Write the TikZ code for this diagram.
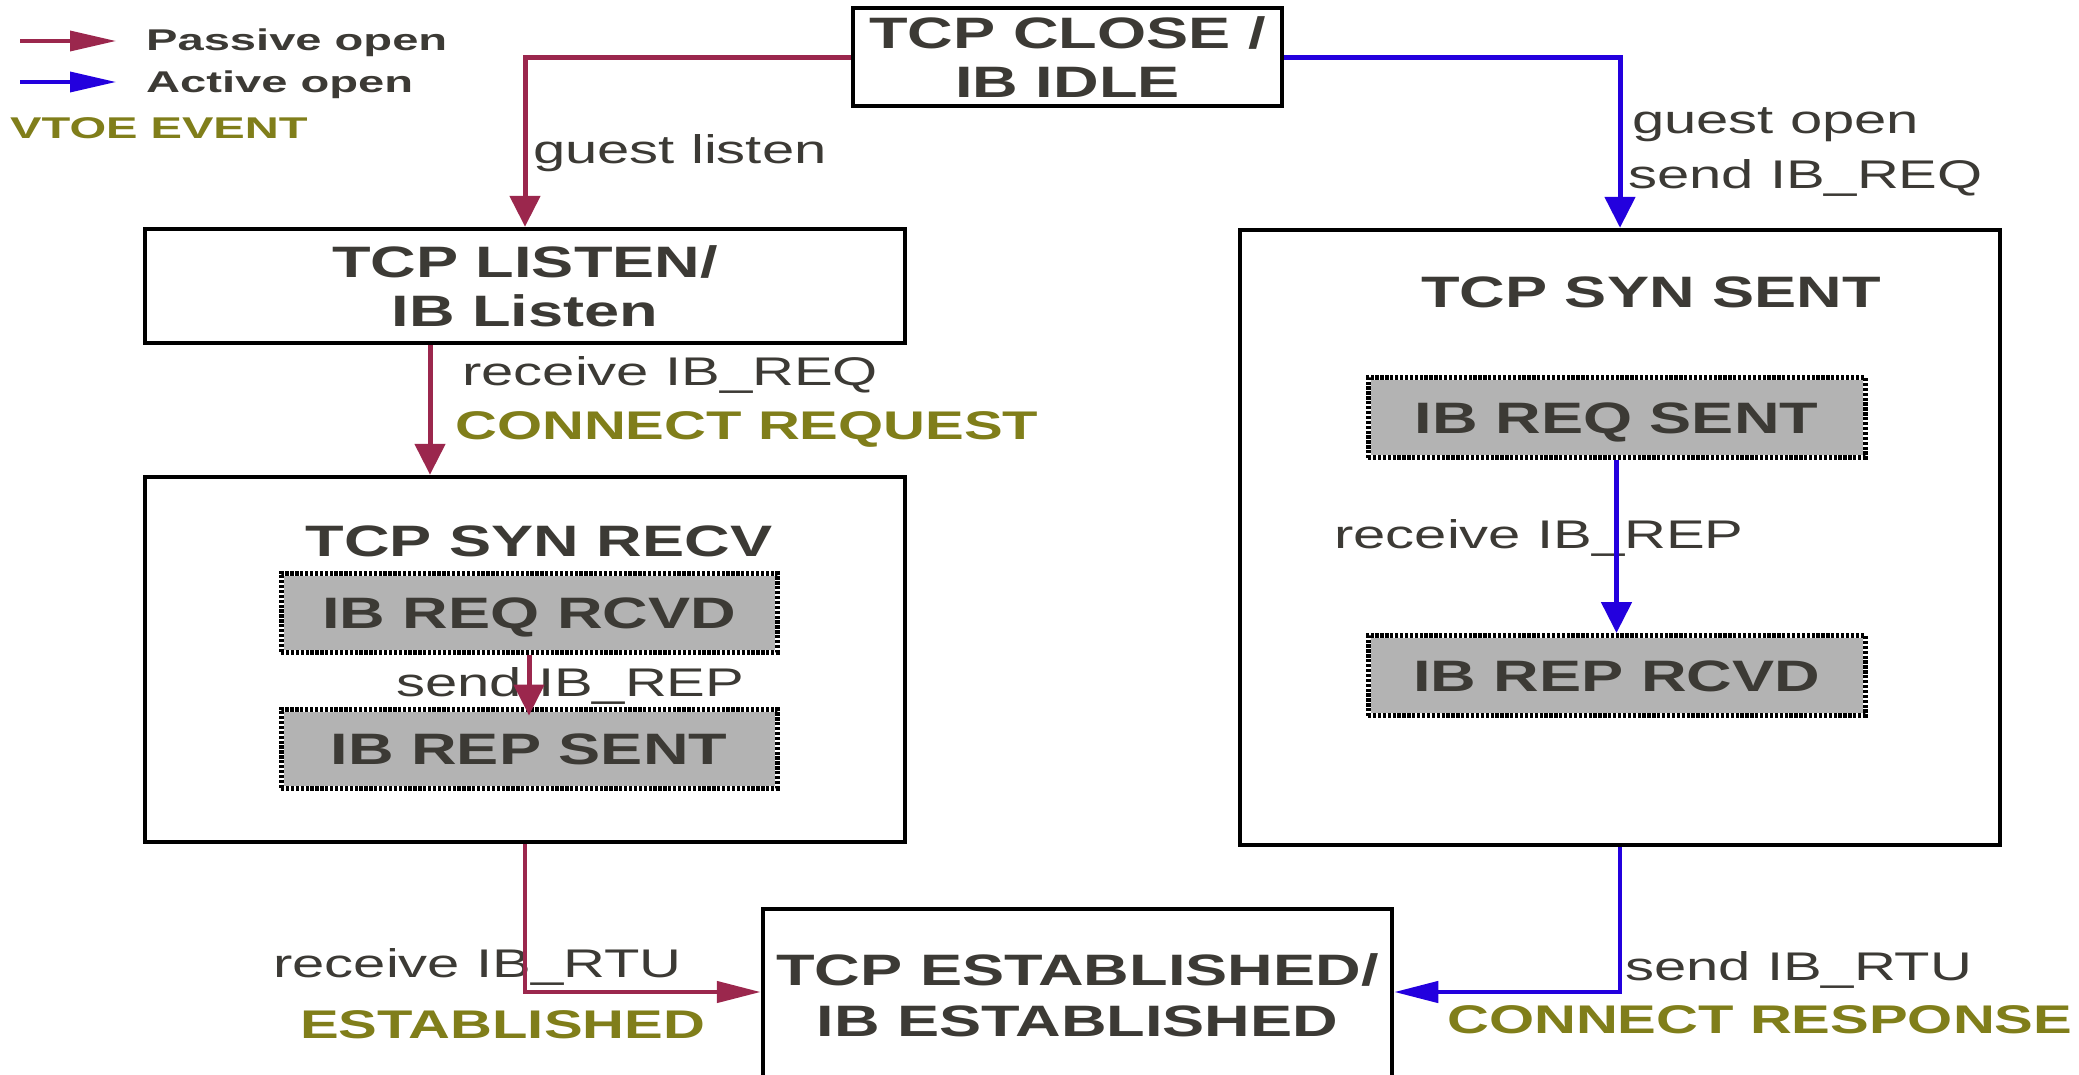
\documentclass[tikz,border=0pt]{standalone}
\usepackage{fontspec}
\setmainfont{Liberation Sans}
\newfontfamily\titleface{Liberation Sans}[FakeStretch=1.435]
\newfontfamily\labelface{Liberation Sans}[FakeStretch=1.45]
\newfontfamily\legendface{Liberation Sans}[FakeStretch=1.57]
\usetikzlibrary{arrows.meta}

\definecolor{ink}{RGB}{60,58,53}
\definecolor{eventolive}{RGB}{128,126,26}
\definecolor{passred}{RGB}{155,39,77}
\definecolor{actblue}{RGB}{35,0,222}
\definecolor{subgray}{RGB}{179,179,179}

\tikzset{
  x=1pt, y=-1pt,
  statebox/.style={draw=black, line width=4.5pt, fill=white, inner sep=0pt,
    text=ink, align=center,
    font=\titleface\bfseries\fontsize{44}{49}\selectfont},
  titletext/.style={anchor=base, inner sep=0pt, text=ink,
    font=\titleface\bfseries\fontsize{44}{49}\selectfont},
  substate/.style={fill=subgray, draw=white, line width=5pt, inner sep=0pt,
    text=ink, text height=31.5pt, text depth=0pt,
    font=\titleface\bfseries\fontsize{44}{49}\selectfont,
    postaction={draw=black, line width=5pt, dash pattern=on 3.3pt off 1.6pt}},
  evlabel/.style={anchor=base west, inner sep=0pt, text=ink,
    font=\labelface\fontsize{40}{46}\selectfont},
  vtoe/.style={anchor=base west, inner sep=0pt, text=eventolive,
    font=\labelface\bfseries\fontsize{40}{46}\selectfont},
  legendtext/.style={anchor=base west, inner sep=0pt, text=ink,
    font=\legendface\bfseries\fontsize{30}{36}\selectfont},
  passiveV/.style={draw=passred, line width=5pt, -{Triangle[length=31pt,width=30pt]}},
  passiveH/.style={draw=passred, line width=4.5pt, -{Triangle[length=44pt,width=21pt]}},
  activeV/.style={draw=actblue, line width=5pt, -{Triangle[length=31pt,width=30pt]}},
  activeH/.style={draw=actblue, line width=4.5pt, -{Triangle[length=44pt,width=21pt]}},
  legendarrow/.style={line width=3.5pt, -{Triangle[length=46pt,width=20pt]}},
}

\begin{document}
\begin{tikzpicture}
\useasboundingbox (0,0) rectangle (2079,1074);
\clip (0,0) rectangle (2079,1074);

% legend
\coordinate (lpa) at (20,41);
\coordinate (lpb) at (116,41);
\coordinate (laa) at (20,82);
\coordinate (lab) at (116,82);
\draw[legendarrow, draw=passred] (lpa) -- (lpb);
\draw[legendarrow, draw=actblue] (laa) -- (lab);
\node[legendtext] (lgpassive) at (146,50) {Passive open};
\node[legendtext] (lgactive) at (146,92) {Active open};
\node[legendtext, text=eventolive] (lgevent) at (10,138) {VTOE EVENT};

% states
\node[statebox, minimum width=429pt, minimum height=98pt] (close) at (1067.5,57)
  {TCP CLOSE /\\IB IDLE};
\node[statebox, minimum width=760pt, minimum height=114pt] (listen) at (525,286)
  {TCP LISTEN/\\IB Listen};
\node[statebox, minimum width=760pt, minimum height=365pt] (synrecv) at (525,659.5) {};
\node[statebox, minimum width=760pt, minimum height=615pt] (synsent) at (1620,537.5) {};
\node[statebox, minimum width=629pt, minimum height=172pt,
  font=\titleface\bfseries\fontsize{44}{51}\selectfont] (estab) at (1077.5,995)
  {TCP ESTABLISHED/\\IB ESTABLISHED};

% titles of the composite states
\node[titletext] (recvtitle) at (539,556) {TCP SYN RECV};
\node[titletext] (senttitle) at (1651,307) {TCP SYN SENT};

% IB sub-states
\node[substate, minimum width=496pt, minimum height=79pt] (reqrcvd) at (529,612.5) {IB REQ RCVD};
\node[substate, minimum width=496pt, minimum height=79pt] (repsent) at (529,748.5) {IB REP SENT};
\node[substate, minimum width=497pt, minimum height=80pt] (reqsent) at (1616.5,417.5) {IB REQ SENT};
\node[substate, minimum width=497pt, minimum height=80pt] (reprcvd) at (1616.5,675.5) {IB REP RCVD};

% transition labels
\node[evlabel] (lguestlisten) at (533,163) {guest listen};
\node[evlabel] (lguestopen) at (1632,133) {guest open};
\node[evlabel] (lsendreq) at (1628,188) {send IB\_REQ};
\node[evlabel] (lrecvreq) at (462,385) {receive IB\_REQ};
\node[vtoe] (lconnreq) at (455,439) {CONNECT REQUEST};
\node[evlabel] (lsendrep) at (396,696) {send IB\_REP};
\node[evlabel] (lrecvrep) at (1334,548) {receive IB\_REP};
\node[evlabel] (lrecvrtu) at (273,977) {receive IB\_RTU};
\node[vtoe] (lestab) at (300,1038) {ESTABLISHED};
\node[evlabel] (lsendrtu) at (1625,980) {send IB\_RTU};
\node[vtoe] (lconnresp) at (1447,1033) {CONNECT RESPONSE};

% passive open path
\draw[passiveV] (close.west) -- (close.west -| listen.north) -- (listen.north);
\draw[passiveV] ([xshift=-95pt]listen.south) coordinate (lsout)
  -- (lsout |- synrecv.north);
\draw[passiveV] (reqrcvd.south) -- ([yshift=-9pt]repsent.north);
\draw[passiveH] (synrecv.south) -- (synrecv.south |- 0,992) coordinate (rbend)
  -- (rbend -| estab.west);

% active open path
\draw[activeV] (close.east) -- (close.east -| synsent.north) -- (synsent.north);
\draw[activeV] (reqsent.south) -- (reprcvd.north);
\draw[activeH] (synsent.south) -- (synsent.south |- 0,992) coordinate (bbend)
  -- (bbend -| estab.east);
\end{tikzpicture}
\end{document}
